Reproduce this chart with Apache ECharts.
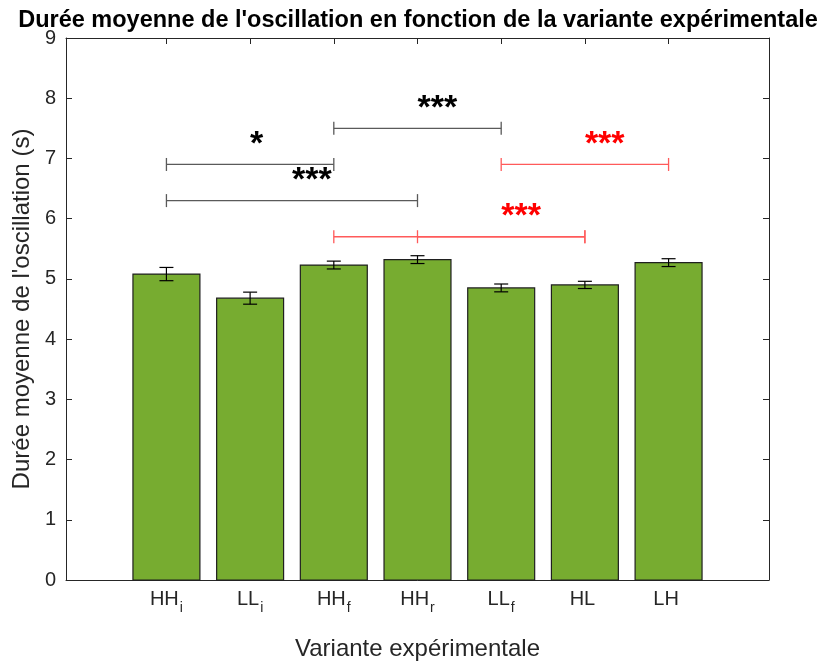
<!DOCTYPE html>
<html>
<head>
<meta charset="utf-8">
<script src="https://cdn.jsdelivr.net/npm/echarts@6/dist/echarts.min.js"></script>
<style>
  html, body { margin: 0; padding: 0; background: #fff; }
  #chart { width: 822px; height: 666px; }
</style>
</head>
<body>
<div id="chart"></div>
<script>
// Experimental variants (base name + subscript)
const variantNames = ['HH', 'LL', 'HH', 'HH', 'LL', 'HL', 'LH'];
const variantSubs  = ['i',  'i',  'f',  'r',  'f',  '',   ''];
const variantPos   = [1, 2, 3, 4, 5, 6, 7];

// Mean oscillation duration (s) and standard error
const meanDuration = [5.08, 4.68, 5.23, 5.32, 4.85, 4.90, 5.27];
const errDuration  = [0.11, 0.10, 0.065, 0.065, 0.065, 0.06, 0.065];

// Significance brackets
const sigFrom  = [1, 3, 1, 5, 3, 4];
const sigTo    = [3, 5, 4, 7, 6, 6];
const sigLevel = [6.9, 7.5, 6.3, 6.9, 5.7, 5.7];
const sigText  = ['*', '***', '***', '***', '', '***'];
const sigGroup = ['k', 'k', 'k', 'r', 'r', 'r'];

const yTicks = [0, 1, 2, 3, 4, 5, 6, 7, 8, 9];

const FONT = '"Liberation Sans", Arial, Helvetica, sans-serif';
const AXIS_COLOR = '#262626';
const BAR_COLOR = '#77AC30';

const barData = variantPos.map((p, i) => [p, meanDuration[i], errDuration[i]]);
const sigData = sigFrom.map((f, i) => [f, sigTo[i], sigLevel[i], i]);

const labelFor = {};
variantPos.forEach((p, i) => { labelFor[p] = '{m|' + variantNames[i] + '}{s|' + (variantSubs[i] || ' ') + '}'; });

const chart = echarts.init(document.getElementById('chart'), null, { renderer: 'canvas' });

const tickInside = (vals) => ({
  show: true, inside: true, length: 6,
  lineStyle: { color: AXIS_COLOR, width: 1 },
  customValues: vals
});

chart.setOption({
  animation: false,
  backgroundColor: '#fff',
  title: {
    text: "Durée moyenne de l'oscillation en fonction de la variante expérimentale",
    left: 413, top: 4, textAlign: 'center',
    textStyle: { fontFamily: FONT, fontSize: 23.5, fontWeight: 'bold', color: '#000' }
  },
  grid: { left: 66, right: 53, top: 38, bottom: 76, containLabel: false },
  xAxis: [
    {
      type: 'value', position: 'bottom', min: -0.2, max: 8.2,
      name: 'Variante expérimentale', nameLocation: 'middle', nameGap: 57,
      nameTextStyle: { fontFamily: FONT, fontSize: 24, color: AXIS_COLOR },
      axisLine: { show: true, onZero: false, lineStyle: { color: AXIS_COLOR, width: 1 } },
      axisTick: tickInside(variantPos),
      splitLine: { show: false },
      axisLabel: {
        show: true, margin: 9, customValues: variantPos,
        formatter: (v) => labelFor[Math.round(v)] || '',
        rich: {
          m: { fontFamily: FONT, fontSize: 20, color: AXIS_COLOR, verticalAlign: 'top', lineHeight: 22 },
          s: { fontFamily: FONT, fontSize: 14, color: AXIS_COLOR, verticalAlign: 'top', lineHeight: 16, padding: [12, 0, 0, 1] }
        }
      }
    },
    {
      type: 'value', position: 'top', min: -0.2, max: 8.2,
      axisLine: { show: true, onZero: false, lineStyle: { color: AXIS_COLOR, width: 1 } },
      axisTick: tickInside(variantPos),
      axisLabel: { show: false },
      splitLine: { show: false }
    }
  ],
  yAxis: [
    {
      type: 'value', position: 'left', min: 0, max: 9, interval: 1,
      name: "Durée moyenne de l'oscillation (s)", nameLocation: 'middle', nameGap: 28,
      nameTextStyle: { fontFamily: FONT, fontSize: 24, color: AXIS_COLOR },
      axisLine: { show: true, onZero: false, lineStyle: { color: AXIS_COLOR, width: 1 } },
      axisTick: tickInside(yTicks),
      axisLabel: { show: true, margin: 10, customValues: yTicks, fontFamily: FONT, fontSize: 20, color: AXIS_COLOR },
      splitLine: { show: false }
    },
    {
      type: 'value', position: 'right', min: 0, max: 9, interval: 1,
      axisLine: { show: true, onZero: false, lineStyle: { color: AXIS_COLOR, width: 1 } },
      axisTick: tickInside(yTicks),
      axisLabel: { show: false },
      splitLine: { show: false }
    }
  ],
  series: [
    {
      // bars with error bars
      type: 'custom',
      xAxisIndex: 0, yAxisIndex: 0,
      clip: false,
      data: barData,
      renderItem: (params, api) => {
        const x = api.value(0), v = api.value(1), e = api.value(2);
        const tl = api.coord([x - 0.4, v]);
        const br = api.coord([x + 0.4, 0]);
        const lo = api.coord([x, v - e]);
        const hi = api.coord([x, v + e]);
        const cap = 7;
        const errStyle = { stroke: '#000', lineWidth: 1.2 };
        return {
          type: 'group',
          children: [
            { type: 'rect', shape: { x: tl[0], y: tl[1], width: br[0] - tl[0], height: br[1] - tl[1] },
              style: { fill: BAR_COLOR, stroke: '#1f1f1f', lineWidth: 1.2 } },
            { type: 'line', shape: { x1: lo[0], y1: lo[1], x2: hi[0], y2: hi[1] }, style: errStyle },
            { type: 'line', shape: { x1: lo[0] - cap, y1: lo[1], x2: lo[0] + cap, y2: lo[1] }, style: errStyle },
            { type: 'line', shape: { x1: hi[0] - cap, y1: hi[1], x2: hi[0] + cap, y2: hi[1] }, style: errStyle }
          ]
        };
      }
    },
    {
      // significance brackets
      type: 'custom',
      xAxisIndex: 0, yAxisIndex: 0,
      clip: false,
      data: sigData,
      renderItem: (params, api) => {
        const a = api.value(0), b = api.value(1), lvl = api.value(2), idx = api.value(3);
        const red = sigGroup[idx] === 'r';
        const lineColor = red ? '#ff5a5a' : '#5a5a5a';
        const textColor = red ? '#ff0000' : '#000000';
        const p1 = api.coord([a, lvl]);
        const p2 = api.coord([b, lvl]);
        const pm = api.coord([(a + b) / 2, lvl]);
        const h = 6.5;
        const st = { stroke: lineColor, lineWidth: 1.3 };
        const kids = [
          { type: 'line', shape: { x1: p1[0], y1: p1[1], x2: p2[0], y2: p2[1] }, style: st },
          { type: 'line', shape: { x1: p1[0], y1: p1[1] - h, x2: p1[0], y2: p1[1] + h }, style: st },
          { type: 'line', shape: { x1: p2[0], y1: p2[1] - h, x2: p2[0], y2: p2[1] + h }, style: st }
        ];
        if (sigText[idx]) {
          kids.push({
            type: 'text',
            x: pm[0], y: pm[1] - 20,
            style: {
              text: sigText[idx], fill: textColor,
              font: 'bold 34px ' + FONT,
              textAlign: 'left', textVerticalAlign: 'middle'
            }
          });
        }
        return { type: 'group', children: kids };
      }
    }
  ]
});
</script>
</body>
</html>
